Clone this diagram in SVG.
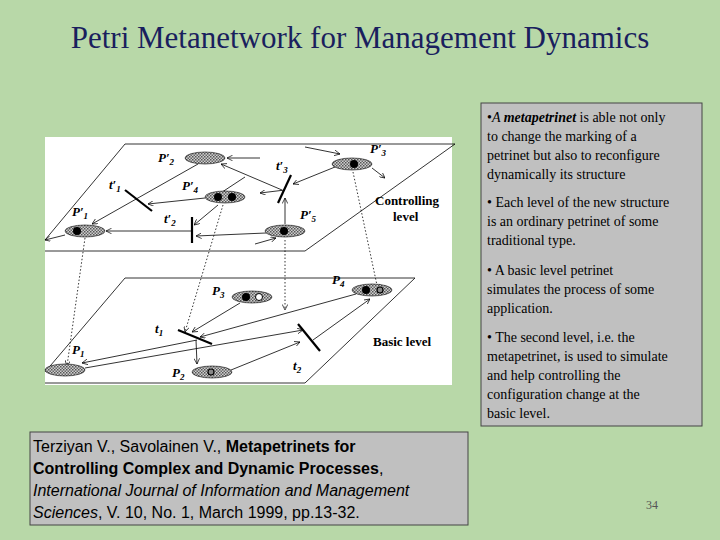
<svg xmlns="http://www.w3.org/2000/svg" width="720" height="540" viewBox="0 0 720 540">
<defs>
<pattern id="dots" width="3" height="3" patternUnits="userSpaceOnUse"><rect width="3" height="3" fill="#cfcfcf"/><rect width="1.5" height="1.5" fill="#555"/><rect x="1.5" y="1.5" width="1.5" height="1.5" fill="#666"/></pattern>
<marker id="a" viewBox="0 0 8 8" refX="8" refY="4" markerWidth="7" markerHeight="7" orient="auto"><path d="M0,0L8,4L0,8" fill="none" stroke="#000" stroke-width="1"/></marker>
</defs>
<style>
.pl{fill:url(#dots);stroke:#000;stroke-width:0.6}
.ln{stroke:#000;stroke-width:0.8;fill:none;marker-end:url(#a)}
.dt{stroke:#000;stroke-width:0.8;fill:none;stroke-dasharray:1.5,2;marker-end:url(#a)}
.tr{stroke:#000;stroke-width:2.2}
.lb{font-family:"Liberation Serif","DejaVu Serif",serif;font-weight:bold;font-style:italic;font-size:13px}
.bl{font-family:"Liberation Serif","DejaVu Serif",serif;font-weight:bold;font-size:13px}
.tx{font-family:"Liberation Serif","DejaVu Serif",serif;font-size:14px;fill:#000}
</style>
<rect width="720" height="540" fill="#b8d8a8"/>
<text x="360" y="48" text-anchor="middle" font-family="'Liberation Serif','DejaVu Serif',serif" font-size="31" fill="#1a1f5e">Petri Metanetwork for Management Dynamics</text>
<g id="figure">
<rect x="45" y="137" width="407" height="248" fill="#fff"/>
<path d="M125,144L455,144M305,251L45,251M125,144L45,240M455,144L305,251" stroke="#000" stroke-width="0.8" fill="none"/>
<path d="M125,278L415,278L305,383L45,383M125,278L45,372" stroke="#000" stroke-width="0.8" fill="none"/>
</g>
<g id="connectors">
<path class="ln" d="M260,158L227,158"/>
<path class="ln" d="M198,164L92,224"/>
<path class="ln" d="M282,190L221,164"/>
<path class="ln" d="M335,167L293,184"/>
<path class="ln" d="M305,147L340,154"/>
<path class="ln" d="M372,168L385,178"/>
<path class="ln" d="M285,190L260,193"/>
<path class="ln" d="M205,198L148,204"/>
<path class="ln" d="M245,177L210,200"/>
<path class="ln" d="M218,205L194,225"/>
<path class="ln" d="M192,231L106,231"/>
<path class="ln" d="M266,233L196,236"/>
<path class="ln" d="M285,224L285,198"/>
<path class="ln" d="M255,244L276,238"/>
<path class="ln" d="M65,235L45,240"/>
<path class="dt" d="M85,238L67,366"/>
<path class="dt" d="M223,205L185,332"/>
<path class="dt" d="M285,240L285,310"/>
<path class="dt" d="M353,172L378,290"/>
<path class="ln" d="M240,303L192,332"/>
<path class="ln" d="M356,294L200,337"/>
<path class="ln" d="M197,340L82,363"/>
<path class="ln" d="M85,368L303,330"/>
<path class="ln" d="M313,340L370,299"/>
<path class="ln" d="M231,370L300,342"/>
<path class="ln" d="M196,340L197,364"/>
</g>
<g id="places">
<ellipse class="pl" cx="205" cy="158" rx="20" ry="6"/>
<ellipse class="pl" cx="352" cy="164" rx="20" ry="6"/><circle cx="354" cy="164" r="4"/>
<ellipse class="pl" cx="225" cy="197" rx="20" ry="6"/><circle cx="218" cy="197" r="4"/><circle cx="232" cy="197" r="4"/>
<ellipse class="pl" cx="85" cy="231" rx="20" ry="6"/><circle cx="77" cy="231" r="4"/>
<ellipse class="pl" cx="285" cy="231" rx="20" ry="6"/><circle cx="284" cy="231" r="4"/>
<ellipse class="pl" cx="252" cy="297" rx="20" ry="6"/><circle cx="246" cy="297" r="4"/><circle cx="259" cy="297" r="3.5" fill="#fff" stroke="#000"/>
<ellipse class="pl" cx="372" cy="290" rx="20" ry="6"/><circle cx="366" cy="290" r="4"/><circle cx="380" cy="290" r="3" fill="#888" stroke="#000" stroke-width="1.2"/>
<ellipse class="pl" cx="65" cy="370" rx="20" ry="6"/>
<ellipse class="pl" cx="212" cy="372" rx="20" ry="6"/><circle cx="211" cy="372" r="3" fill="#888" stroke="#000" stroke-width="1.2"/>
</g>
<g id="transitions">
<line class="tr" x1="125" y1="190" x2="152" y2="211"/>
<line class="tr" x1="192" y1="217" x2="192" y2="243"/>
<line class="tr" x1="278" y1="203" x2="291" y2="175"/>
<line class="tr" x1="178" y1="330" x2="212" y2="344"/>
<line class="tr" x1="298" y1="324" x2="320" y2="351"/>
</g>
<g id="labels">
<text class="lb" x="158" y="162">P′<tspan font-size="9" dy="3">2</tspan></text>
<text class="lb" x="370" y="153">P′<tspan font-size="9" dy="3">3</tspan></text>
<text class="lb" x="276" y="170">t′<tspan font-size="9" dy="3">3</tspan></text>
<text class="lb" x="109" y="189">t′<tspan font-size="9" dy="3">1</tspan></text>
<text class="lb" x="182" y="190">P′<tspan font-size="9" dy="3">4</tspan></text>
<text class="lb" x="72" y="216">P′<tspan font-size="9" dy="3">1</tspan></text>
<text class="lb" x="164" y="223">t′<tspan font-size="9" dy="3">2</tspan></text>
<text class="lb" x="300" y="219">P′<tspan font-size="9" dy="3">5</tspan></text>
<text class="bl" x="375" y="205">Controlling</text>
<text class="bl" x="393" y="221">level</text>
<text class="lb" x="332" y="284">P<tspan font-size="9" dy="3">4</tspan></text>
<text class="lb" x="212" y="295">P<tspan font-size="9" dy="3">3</tspan></text>
<text class="lb" x="155" y="333">t<tspan font-size="9" dy="3">1</tspan></text>
<text class="lb" x="72" y="354">P<tspan font-size="9" dy="3">1</tspan></text>
<text class="lb" x="172" y="377">P<tspan font-size="9" dy="3">2</tspan></text>
<text class="lb" x="293" y="370">t<tspan font-size="9" dy="3">2</tspan></text>
<text class="bl" x="373" y="346">Basic level</text>
</g>
<g id="textbox">
<rect x="481" y="103" width="221" height="323" fill="#c0c0c0" stroke="#444"/>
<text class="tx" x="487" y="122">•<tspan font-style="italic">A </tspan><tspan font-style="italic" font-weight="bold">metapetrinet</tspan> is able not only</text>
<text class="tx" x="487" y="141">to change the marking of a</text>
<text class="tx" x="487" y="160">petrinet but also to reconfigure</text>
<text class="tx" x="487" y="179">dynamically its structure</text>
<text class="tx" x="487" y="207">• Each level of the new structure</text>
<text class="tx" x="487" y="226">is an ordinary petrinet of some</text>
<text class="tx" x="487" y="245">traditional type.</text>
<text class="tx" x="487" y="275">• A basic level petrinet</text>
<text class="tx" x="487" y="294">simulates the process of some</text>
<text class="tx" x="487" y="313">application.</text>
<text class="tx" x="487" y="342">• The second level, i.e. the</text>
<text class="tx" x="487" y="361">metapetrinet, is used to simulate</text>
<text class="tx" x="487" y="380">and help controlling the</text>
<text class="tx" x="487" y="399">configuration change at the</text>
<text class="tx" x="487" y="418">basic level.</text>
</g>
<g id="citation" font-family="'Liberation Sans',sans-serif" font-size="16">
<rect x="30" y="432" width="438" height="93" fill="#c0c0c0" stroke="#444"/>
<text x="33" y="452">Terziyan V., Savolainen V., <tspan font-weight="bold">Metapetrinets for</tspan></text>
<text x="33" y="474" font-weight="bold">Controlling Complex and Dynamic Processes<tspan font-weight="normal">,</tspan></text>
<text x="33" y="496" font-style="italic">International Journal of Information and Management</text>
<text x="33" y="518"><tspan font-style="italic">Sciences</tspan>, V. 10, No. 1, March 1999, pp.13-32.</text>
</g>
<text x="652" y="509" text-anchor="middle" font-family="'Liberation Serif',serif" font-size="12" fill="#555">34</text>
</svg>
